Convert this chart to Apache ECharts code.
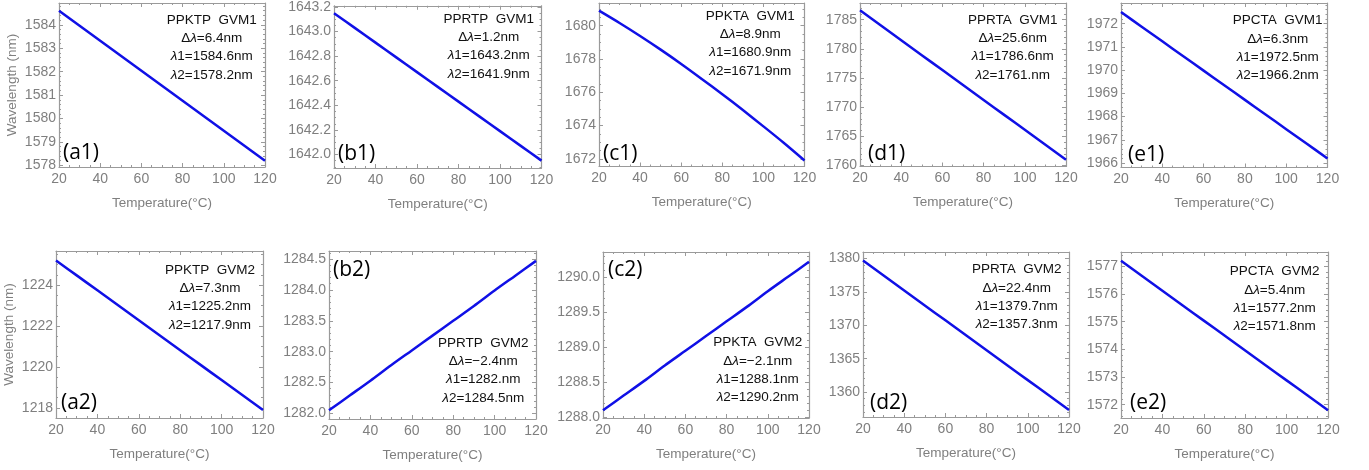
<!DOCTYPE html>
<html>
<head>
<meta charset="utf-8">
<script src="https://cdn.jsdelivr.net/npm/echarts@6/dist/echarts.min.js"></script>
<style>
html,body{margin:0;padding:0;background:#fff;}
#chart{width:1369px;height:470px;}
</style>
</head>
<body>
<div id="chart"></div>
<script>
// ---------- DATA ----------
const temperature = [20, 30, 40, 50, 60, 70, 80, 90, 100, 110, 120];
const xTicks = [20, 40, 60, 80, 100, 120];

const a1Values = [1584.60, 1583.96, 1583.32, 1582.68, 1582.04, 1581.40, 1580.76, 1580.12, 1579.48, 1578.84, 1578.20];
const b1Values = [1643.15, 1643.03, 1642.91, 1642.79, 1642.67, 1642.55, 1642.43, 1642.31, 1642.19, 1642.07, 1641.95];
const c1Values = [1680.90, 1680.16, 1679.38, 1678.56, 1677.70, 1676.80, 1675.88, 1674.93, 1673.95, 1672.95, 1671.90];
const d1Values = [1786.60, 1784.04, 1781.48, 1778.92, 1776.36, 1773.80, 1771.24, 1768.68, 1766.12, 1763.56, 1761.00];
const e1Values = [1972.50, 1971.87, 1971.24, 1970.61, 1969.98, 1969.35, 1968.72, 1968.09, 1967.46, 1966.83, 1966.20];
const a2Values = [1225.20, 1224.47, 1223.74, 1223.01, 1222.28, 1221.55, 1220.82, 1220.09, 1219.36, 1218.63, 1217.90];
const b2Values = [1282.05, 1282.29, 1282.53, 1282.78, 1283.02, 1283.26, 1283.50, 1283.74, 1283.99, 1284.23, 1284.47];
const c2Values = [1288.10, 1288.31, 1288.52, 1288.74, 1288.95, 1289.16, 1289.37, 1289.58, 1289.80, 1290.01, 1290.22];
const d2Values = [1379.70, 1377.46, 1375.22, 1372.98, 1370.74, 1368.50, 1366.26, 1364.02, 1361.78, 1359.54, 1357.30];
const e2Values = [1577.20, 1576.66, 1576.12, 1575.58, 1575.04, 1574.50, 1573.96, 1573.42, 1572.88, 1572.34, 1571.80];

const a1Ticks = [1578, 1579, 1580, 1581, 1582, 1583, 1584];
const b1Ticks = [1642.0, 1642.2, 1642.4, 1642.6, 1642.8, 1643.0, 1643.2];
const c1Ticks = [1672, 1674, 1676, 1678, 1680];
const d1Ticks = [1760, 1765, 1770, 1775, 1780, 1785];
const e1Ticks = [1966, 1967, 1968, 1969, 1970, 1971, 1972];
const a2Ticks = [1218, 1220, 1222, 1224];
const b2Ticks = [1282.0, 1282.5, 1283.0, 1283.5, 1284.0, 1284.5];
const c2Ticks = [1288.0, 1288.5, 1289.0, 1289.5, 1290.0];
const d2Ticks = [1360, 1365, 1370, 1375, 1380];
const e2Ticks = [1572, 1573, 1574, 1575, 1576, 1577];

const panelLabels = ['(a1)', '(b1)', '(c1)', '(d1)', '(e1)', '(a2)', '(b2)', '(c2)', '(d2)', '(e2)'];
const annotationTexts = [
  ['PPKTP  GVM1', 'Δλ=6.4nm', 'λ1=1584.6nm', 'λ2=1578.2nm'],
  ['PPRTP  GVM1', 'Δλ=1.2nm', 'λ1=1643.2nm', 'λ2=1641.9nm'],
  ['PPKTA  GVM1', 'Δλ=8.9nm', 'λ1=1680.9nm', 'λ2=1671.9nm'],
  ['PPRTA  GVM1', 'Δλ=25.6nm', 'λ1=1786.6nm', 'λ2=1761.nm'],
  ['PPCTA  GVM1', 'Δλ=6.3nm', 'λ1=1972.5nm', 'λ2=1966.2nm'],
  ['PPKTP  GVM2', 'Δλ=7.3nm', 'λ1=1225.2nm', 'λ2=1217.9nm'],
  ['PPRTP  GVM2', 'Δλ=−2.4nm', 'λ1=1282.nm', 'λ2=1284.5nm'],
  ['PPKTA  GVM2', 'Δλ=−2.1nm', 'λ1=1288.1nm', 'λ2=1290.2nm'],
  ['PPRTA  GVM2', 'Δλ=22.4nm', 'λ1=1379.7nm', 'λ2=1357.3nm'],
  ['PPCTA  GVM2', 'Δλ=5.4nm', 'λ1=1577.2nm', 'λ2=1571.8nm']
];
const xAxisTitle = 'Temperature(°C)';
const yAxisTitle = 'Wavelength (nm)';

const seriesValues = [a1Values, b1Values, c1Values, d1Values, e1Values, a2Values, b2Values, c2Values, d2Values, e2Values];
const yTickSets = [a1Ticks, b1Ticks, c1Ticks, d1Ticks, e1Ticks, a2Ticks, b2Ticks, c2Ticks, d2Ticks, e2Ticks];

// ---------- LAYOUT / STYLE ----------
const layout = [
  {box:[59, 3, 206, 164],   y:[1577.93, 1584.93], dec:0, minor:0.2,  ann:[211.7, 20], lab:[63, 153], title:true},
  {box:[334, 3, 207.5, 165], y:[1641.89, 1643.21], dec:1, minor:0.05, ann:[488.7, 19], lab:[338, 154]},
  {box:[599, 3, 205.5, 163.5], y:[1671.54, 1681.36], dec:0, minor:0.5, ann:[750.3, 16], lab:[603, 154]},
  {box:[860, 3, 206, 163.5], y:[1759.83, 1787.86], dec:0, minor:1,   ann:[1012.7, 20], lab:[868, 154]},
  {box:[1121, 3, 206.5, 164.5], y:[1965.81, 1972.89], dec:0, minor:0.2, ann:[1277.7, 20.5], lab:[1128, 155]},
  {box:[56, 251, 207, 167],  y:[1217.51, 1225.66], dec:0, minor:0.5, ann:[210, 270], lab:[61, 403], title:true},
  {box:[329, 251, 207, 168], y:[1281.91, 1284.63], dec:1, minor:0.1, ann:[483.3, 343], lab:[333, 270]},
  {box:[603, 252, 206, 166], y:[1287.99, 1290.36], dec:1, minor:0.1, ann:[757.7, 342.5], lab:[608, 270]},
  {box:[863, 252, 206, 165], y:[1356.25, 1380.99], dec:0, minor:1,   ann:[1016.7, 269.5], lab:[870, 403]},
  {box:[1121, 252, 207, 166], y:[1571.52, 1577.52], dec:0, minor:0.2, ann:[1274.7, 271.5], lab:[1130, 403]}
];
const FRAME = '#9a9a9a';
const LABEL = '#7f7f7f';
const LINE = '#1010e6';
const FONT = '"Liberation Sans", Arial, sans-serif';

function minorValues(min, max, step) {
  const out = [];
  const start = Math.ceil(min / step - 1e-9);
  const end = Math.floor(max / step + 1e-9);
  for (let k = start; k <= end; k++) out.push(+(k * step).toFixed(4));
  return out;
}

const grid = [], xAxis = [], yAxis = [], series = [], graphic = [];
layout.forEach((L, i) => {
  grid.push({left: L.box[0], top: L.box[1], width: L.box[2], height: L.box[3], containLabel: false});
  const xBase = {
    gridIndex: i, type: 'value', min: 20, max: 120, interval: 20,
    axisLine: {show: true, onZero: false, lineStyle: {color: FRAME, width: 1.2}},
    axisTick: {show: true, inside: true, length: 4, lineStyle: {color: FRAME, width: 1}},
    minorTick: {show: true, splitNumber: 4, length: 2, lineStyle: {color: FRAME, width: 1}},
    splitLine: {show: false}, minorSplitLine: {show: false}
  };
  xAxis.push(Object.assign({}, xBase, {
    position: 'bottom',
    axisLabel: {show: true, color: LABEL, fontSize: 14, fontFamily: FONT, margin: 5, customValues: xTicks},
    name: xAxisTitle, nameLocation: 'middle', nameGap: 29,
    nameTextStyle: {color: LABEL, fontSize: 13.5, fontFamily: FONT}
  }));
  xAxis.push(Object.assign({}, xBase, {position: 'top', axisLabel: {show: false}}));

  const ticks = yTickSets[i];
  const minors = minorValues(L.y[0], L.y[1], L.minor);
  const yMajor = {
    gridIndex: i, type: 'value', min: L.y[0], max: L.y[1],
    axisLine: {show: true, onZero: false, lineStyle: {color: FRAME, width: 1.2}},
    axisTick: {show: true, inside: true, length: 4, customValues: ticks, lineStyle: {color: FRAME, width: 1}},
    splitLine: {show: false}
  };
  yAxis.push(Object.assign({}, yMajor, {
    position: 'left',
    axisLabel: {show: true, customValues: ticks, color: LABEL, fontSize: 14, fontFamily: FONT, margin: 3,
      formatter: v => Number(v).toFixed(L.dec)},
    name: L.title ? yAxisTitle : '', nameLocation: 'middle', nameGap: 40,
    nameTextStyle: {color: LABEL, fontSize: 13.5, fontFamily: FONT}
  }));
  yAxis.push(Object.assign({}, yMajor, {position: 'right', axisLabel: {show: false}}));
  const yMinor = {
    gridIndex: i, type: 'value', min: L.y[0], max: L.y[1],
    axisLine: {show: false, onZero: false},
    axisTick: {show: true, inside: true, length: 2, customValues: minors, lineStyle: {color: FRAME, width: 1}},
    axisLabel: {show: false}, splitLine: {show: false}
  };
  yAxis.push(Object.assign({}, yMinor, {position: 'left'}));
  yAxis.push(Object.assign({}, yMinor, {position: 'right'}));

  series.push({
    type: 'line', xAxisIndex: 2 * i, yAxisIndex: 4 * i,
    data: temperature.map((t, k) => [t, seriesValues[i][k]]),
    showSymbol: false, symbol: 'none', clip: true, smooth: 0.3,
    lineStyle: {color: LINE, width: 2.5}
  });

  annotationTexts[i].forEach((s, r) => {
    graphic.push({
      type: 'text', x: L.ann[0], y: L.ann[1] + r * 18.3, z: 10,
      style: {
        text: s.replace(/λ/g, '{i|λ}'),
        fill: '#111', fontSize: 13.5, fontFamily: FONT,
        align: 'center', verticalAlign: 'middle',
        rich: {i: {fontStyle: 'italic', fontSize: 13.5, fontFamily: FONT, fill: '#111'}}
      }
    });
  });
  graphic.push({
    type: 'text', x: L.lab[0], y: L.lab[1], z: 10,
    style: {text: panelLabels[i], fill: '#000', fontSize: 21, fontFamily: '"Open Sans", "Noto Sans", sans-serif',
      align: 'left', verticalAlign: 'middle'}
  });
});

const chart = echarts.init(document.getElementById('chart'), null, {renderer: 'canvas'});
chart.setOption({
  animation: false,
  backgroundColor: '#ffffff',
  grid, xAxis, yAxis, series, graphic
});
</script>
</body>
</html>
